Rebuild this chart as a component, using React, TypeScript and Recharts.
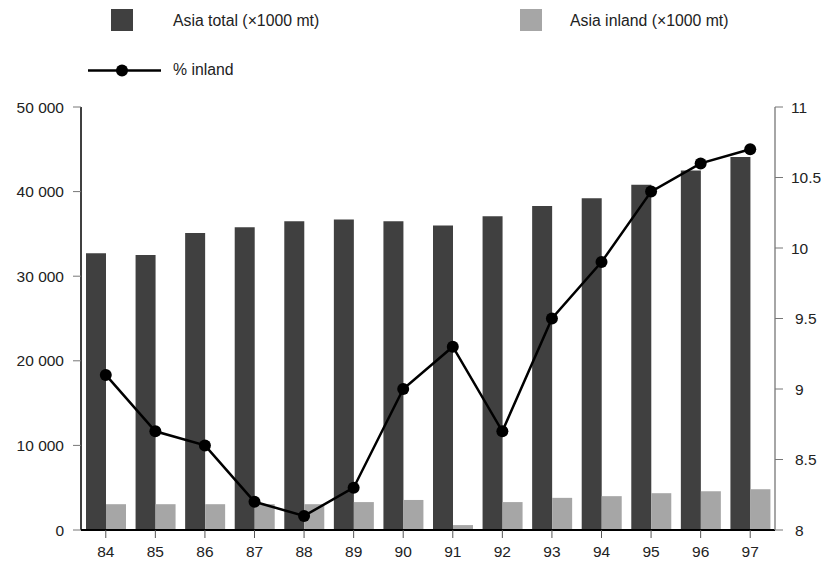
import React from "react";
import { ComposedChart, Bar, Line, XAxis, YAxis } from "recharts";

const years = ["84", "85", "86", "87", "88", "89", "90", "91", "92", "93", "94", "95", "96", "97"];
const asiaTotal = [32700, 32500, 35100, 35800, 36500, 36700, 36500, 36000, 37100, 38300, 39200, 40800, 42500, 44100];
const asiaInland = [3050, 3050, 3050, 3050, 3050, 3300, 3550, 580, 3300, 3800, 4000, 4350, 4580, 4820];
const pctInland = [9.1, 8.7, 8.6, 8.2, 8.1, 8.3, 9.0, 9.3, 8.7, 9.5, 9.9, 10.4, 10.6, 10.7];

const leftTicks = [0, 10000, 20000, 30000, 40000, 50000];
const rightTicks = [8, 8.5, 9, 9.5, 10, 10.5, 11];

const DARK = "#404040";
const LIGHT = "#a6a6a6";
const FONT = "'Liberation Sans', Arial, sans-serif";

const data = years.map((y, i) => ({
  year: y,
  total: asiaTotal[i],
  inland: asiaInland[i],
  pct: pctInland[i],
}));

const fmtThousands = (v: number) => String(v).replace(/\B(?=(\d{3})+(?!\d))/g, " ");

// right axis labels: values under 10 sit one space further right
const RightTick = (props: any) => {
  const { x, y, payload } = props;
  const shift = payload.value < 10 ? 4 : 0;
  return (
    <text x={x + shift} y={y} dy="0.355em" textAnchor="start" fill="#222" fontSize={15.5} fontFamily={FONT}>
      {String(payload.value)}
    </text>
  );
};

export default function App() {
  return (
    <div style={{ position: "relative", width: 826, height: 565, background: "#fff", fontFamily: FONT }}>
      <style>{`body{margin:0}`}</style>

      {/* legend */}
      <svg width={826} height={90} style={{ position: "absolute", left: 0, top: 0 }}>
        <rect x={111} y={9} width={22} height={22} fill={DARK} />
        <text x={173} y={20} dy="0.355em" fontSize={15.8} fill="#222" fontFamily={FONT}>Asia total (×1000 mt)</text>
        <rect x={520} y={9} width={22} height={22} fill={LIGHT} />
        <text x={570} y={20} dy="0.355em" fontSize={15.8} fill="#222" fontFamily={FONT}>Asia inland (×1000 mt)</text>
        <line x1={88} y1={70.5} x2={161} y2={70.5} stroke="#000" strokeWidth={2.5} />
        <circle cx={122} cy={70.5} r={6} fill="#000" />
        <text x={173} y={69} dy="0.355em" fontSize={15.8} fill="#222" fontFamily={FONT}>% inland</text>
      </svg>

      <ComposedChart
        width={826}
        height={565}
        data={data}
        margin={{ top: 107, right: 0, bottom: 0, left: 0 }}
        barGap={0}
        style={{ position: "absolute", left: 0, top: 0 }}
      >
        <XAxis
          dataKey="year"
          height={35}
          tickSize={8}
          tickMargin={8}
          axisLine={{ stroke: "#000", strokeWidth: 2 }}
          tickLine={{ stroke: "#555" }}
          tick={{ fill: "#222", fontSize: 15.5, fontFamily: FONT }}
          interval={0}
        />
        <YAxis
          yAxisId="left"
          orientation="left"
          width={81}
          domain={[0, 50000]}
          ticks={leftTicks}
          tickFormatter={fmtThousands}
          tickSize={8}
          tickMargin={9}
          axisLine={{ stroke: "#000", strokeWidth: 1.5 }}
          tickLine={{ stroke: "#777" }}
          tick={{ fill: "#222", fontSize: 15.5, fontFamily: FONT }}
          interval={0}
        />
        <YAxis
          yAxisId="right"
          orientation="right"
          width={51}
          domain={[8, 11]}
          ticks={rightTicks}
          tickSize={8}
          tickMargin={8}
          axisLine={{ stroke: "#888", strokeWidth: 1.5 }}
          tickLine={{ stroke: "#777" }}
          tick={<RightTick />}
          interval={0}
        />
        <Bar yAxisId="left" dataKey="total" fill={DARK} barSize={20} isAnimationActive={false} />
        <Bar yAxisId="left" dataKey="inland" fill={LIGHT} barSize={20} isAnimationActive={false} />
        <Line
          yAxisId="right"
          dataKey="pct"
          type="linear"
          stroke="#000"
          strokeWidth={2.5}
          dot={{ r: 6, fill: "#000", stroke: "#000", strokeWidth: 0 }}
          isAnimationActive={false}
        />
      </ComposedChart>
    </div>
  );
}
